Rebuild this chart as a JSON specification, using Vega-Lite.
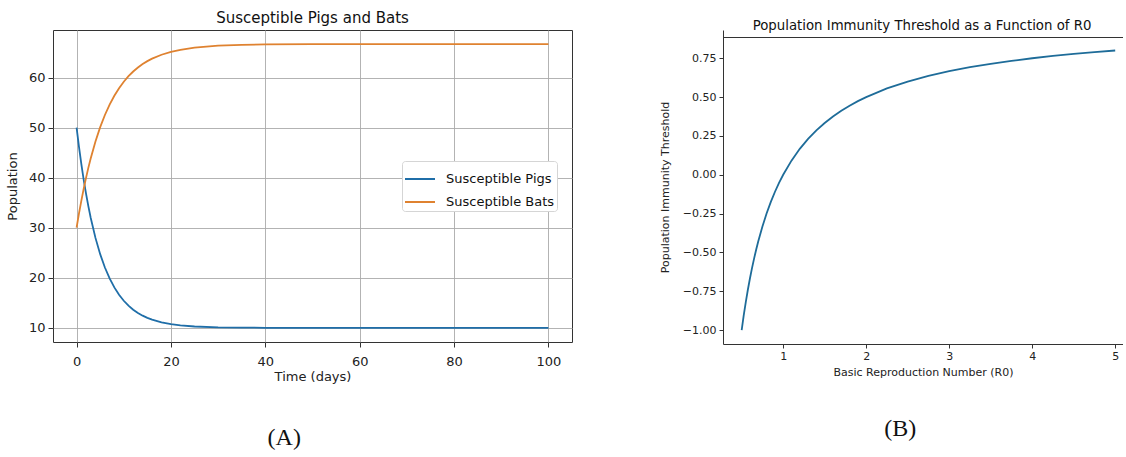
{
  "$schema": "https://vega.github.io/schema/vega-lite/v6.json",
  "padding": {"left": 5, "top": 10, "right": 0, "bottom": 0},
  "background": "white",
  "config": {
    "font": "DejaVu Sans",
    "axis": {"labelColor": "#222", "titleColor": "#222", "domainColor": "#333", "tickColor": "#333", "titleFontWeight": "normal", "labelFont": "DejaVu Sans", "titleFont": "DejaVu Sans"},
    "title": {"font": "DejaVu Sans", "fontWeight": "normal", "color": "#111"},
    "view": {"stroke": "#333"}
  },
  "datasets": {
    "sir": [
      {"series": "Susceptible Pigs", "t": 0, "v": 50},
      {"series": "Susceptible Pigs", "t": 0.5, "v": 46.19},
      {"series": "Susceptible Pigs", "t": 1, "v": 42.75},
      {"series": "Susceptible Pigs", "t": 1.5, "v": 39.63},
      {"series": "Susceptible Pigs", "t": 2, "v": 36.81},
      {"series": "Susceptible Pigs", "t": 2.5, "v": 34.26},
      {"series": "Susceptible Pigs", "t": 3, "v": 31.95},
      {"series": "Susceptible Pigs", "t": 4, "v": 27.97},
      {"series": "Susceptible Pigs", "t": 5, "v": 24.72},
      {"series": "Susceptible Pigs", "t": 6, "v": 22.05},
      {"series": "Susceptible Pigs", "t": 7, "v": 19.86},
      {"series": "Susceptible Pigs", "t": 8, "v": 18.08},
      {"series": "Susceptible Pigs", "t": 9, "v": 16.61},
      {"series": "Susceptible Pigs", "t": 10, "v": 15.41},
      {"series": "Susceptible Pigs", "t": 11, "v": 14.43},
      {"series": "Susceptible Pigs", "t": 12, "v": 13.63},
      {"series": "Susceptible Pigs", "t": 13, "v": 12.97},
      {"series": "Susceptible Pigs", "t": 14, "v": 12.43},
      {"series": "Susceptible Pigs", "t": 15, "v": 11.99},
      {"series": "Susceptible Pigs", "t": 16, "v": 11.63},
      {"series": "Susceptible Pigs", "t": 18, "v": 11.09},
      {"series": "Susceptible Pigs", "t": 20, "v": 10.73},
      {"series": "Susceptible Pigs", "t": 22, "v": 10.49},
      {"series": "Susceptible Pigs", "t": 25, "v": 10.27},
      {"series": "Susceptible Pigs", "t": 30, "v": 10.1},
      {"series": "Susceptible Pigs", "t": 35, "v": 10.04},
      {"series": "Susceptible Pigs", "t": 40, "v": 10.01},
      {"series": "Susceptible Pigs", "t": 50, "v": 10},
      {"series": "Susceptible Pigs", "t": 60, "v": 10},
      {"series": "Susceptible Pigs", "t": 70, "v": 10},
      {"series": "Susceptible Pigs", "t": 80, "v": 10},
      {"series": "Susceptible Pigs", "t": 90, "v": 10},
      {"series": "Susceptible Pigs", "t": 100, "v": 10},
      {"series": "Susceptible Bats", "t": 0, "v": 30},
      {"series": "Susceptible Bats", "t": 0.5, "v": 32.8},
      {"series": "Susceptible Bats", "t": 1, "v": 35.38},
      {"series": "Susceptible Bats", "t": 1.5, "v": 37.77},
      {"series": "Susceptible Bats", "t": 2, "v": 39.97},
      {"series": "Susceptible Bats", "t": 2.5, "v": 42.01},
      {"series": "Susceptible Bats", "t": 3, "v": 43.89},
      {"series": "Susceptible Bats", "t": 4, "v": 47.23},
      {"series": "Susceptible Bats", "t": 5, "v": 50.09},
      {"series": "Susceptible Bats", "t": 6, "v": 52.52},
      {"series": "Susceptible Bats", "t": 7, "v": 54.6},
      {"series": "Susceptible Bats", "t": 8, "v": 56.37},
      {"series": "Susceptible Bats", "t": 9, "v": 57.88},
      {"series": "Susceptible Bats", "t": 10, "v": 59.17},
      {"series": "Susceptible Bats", "t": 11, "v": 60.27},
      {"series": "Susceptible Bats", "t": 12, "v": 61.21},
      {"series": "Susceptible Bats", "t": 13, "v": 62.01},
      {"series": "Susceptible Bats", "t": 14, "v": 62.7},
      {"series": "Susceptible Bats", "t": 15, "v": 63.28},
      {"series": "Susceptible Bats", "t": 16, "v": 63.78},
      {"series": "Susceptible Bats", "t": 18, "v": 64.56},
      {"series": "Susceptible Bats", "t": 20, "v": 65.14},
      {"series": "Susceptible Bats", "t": 22, "v": 65.55},
      {"series": "Susceptible Bats", "t": 25, "v": 65.98},
      {"series": "Susceptible Bats", "t": 30, "v": 66.36},
      {"series": "Susceptible Bats", "t": 35, "v": 66.53},
      {"series": "Susceptible Bats", "t": 40, "v": 66.61},
      {"series": "Susceptible Bats", "t": 50, "v": 66.66},
      {"series": "Susceptible Bats", "t": 60, "v": 66.67},
      {"series": "Susceptible Bats", "t": 70, "v": 66.67},
      {"series": "Susceptible Bats", "t": 80, "v": 66.67},
      {"series": "Susceptible Bats", "t": 90, "v": 66.67},
      {"series": "Susceptible Bats", "t": 100, "v": 66.67}
    ],
    "hit": [
      {"r": 0.5, "p": -1},
      {"r": 0.525, "p": -0.9048},
      {"r": 0.55, "p": -0.8182},
      {"r": 0.575, "p": -0.7391},
      {"r": 0.6, "p": -0.6667},
      {"r": 0.625, "p": -0.6},
      {"r": 0.65, "p": -0.5385},
      {"r": 0.675, "p": -0.4815},
      {"r": 0.7, "p": -0.4286},
      {"r": 0.75, "p": -0.3333},
      {"r": 0.8, "p": -0.25},
      {"r": 0.85, "p": -0.1765},
      {"r": 0.9, "p": -0.1111},
      {"r": 0.95, "p": -0.0526},
      {"r": 1.0, "p": 0},
      {"r": 1.1, "p": 0.0909},
      {"r": 1.2, "p": 0.1667},
      {"r": 1.3, "p": 0.2308},
      {"r": 1.4, "p": 0.2857},
      {"r": 1.5, "p": 0.3333},
      {"r": 1.6, "p": 0.375},
      {"r": 1.7, "p": 0.4118},
      {"r": 1.8, "p": 0.4444},
      {"r": 1.9, "p": 0.4737},
      {"r": 2.0, "p": 0.5},
      {"r": 2.25, "p": 0.5556},
      {"r": 2.5, "p": 0.6},
      {"r": 2.75, "p": 0.6364},
      {"r": 3.0, "p": 0.6667},
      {"r": 3.25, "p": 0.6923},
      {"r": 3.5, "p": 0.7143},
      {"r": 3.75, "p": 0.7333},
      {"r": 4.0, "p": 0.75},
      {"r": 4.25, "p": 0.7647},
      {"r": 4.5, "p": 0.7778},
      {"r": 4.75, "p": 0.7895},
      {"r": 5.0, "p": 0.8}
    ]
  },
  "hconcat": [
    {
      "vconcat": [
        {
          "width": 519,
          "height": 312,
          "title": {"text": "Susceptible Pigs and Bats", "fontSize": 15, "offset": 4},
          "data": {"name": "sir"},
          "mark": {"type": "line", "strokeWidth": 1.8, "clip": true},
          "encoding": {
            "x": {"field": "t", "type": "quantitative",
              "scale": {"domain": [-5, 105], "nice": false, "zero": false},
              "axis": {"values": [0, 20, 40, 60, 80, 100], "title": "Time (days)", "grid": true, "gridColor": "#aaaaaa", "gridWidth": 0.9, "labelFontSize": 13, "titleFontSize": 13, "tickSize": 5, "labelPadding": 8, "titlePadding": 2, "domain": false}},
            "y": {"field": "v", "type": "quantitative",
              "scale": {"domain": [7.17, 69.5], "nice": false, "zero": false},
              "axis": {"values": [10, 20, 30, 40, 50, 60], "title": "Population", "grid": true, "gridColor": "#aaaaaa", "gridWidth": 0.9, "labelFontSize": 13, "titleFontSize": 13, "tickSize": 5, "labelPadding": 3, "titlePadding": 9, "domain": false}},
            "color": {"field": "series", "type": "nominal",
              "scale": {"domain": ["Susceptible Pigs", "Susceptible Bats"], "range": ["#1f6ea8", "#df8230"]},
              "legend": {"title": null, "orient": "none", "legendX": 349, "legendY": 131, "fillColor": "white", "strokeColor": "#d5d5d5", "padding": 2, "cornerRadius": 3, "symbolType": "stroke", "symbolStrokeWidth": 2, "symbolSize": 900, "labelFontSize": 13, "labelFont": "DejaVu Sans", "labelColor": "#111", "labelOffset": 10, "rowPadding": 0}}
          }
        }
      ],
      "title": {"text": "(A)", "orient": "bottom", "anchor": "middle", "frame": "bounds", "font": "Liberation Serif", "fontSize": 24, "offset": 42, "dx": -5, "color": "#111"}
    },
    {
      "vconcat": [
        {
          "width": 400,
          "height": 314,
          "title": {"text": "Population Immunity Threshold as a Function of R0", "fontSize": 13.3, "offset": -2, "dx": -1},
          "data": {"name": "hit"},
          "view": {"stroke": null},
          "layer": [
            {
              "mark": {"type": "line", "strokeWidth": 1.8, "color": "#1e6c99", "clip": true},
              "encoding": {
                "x": {"field": "r", "type": "quantitative",
                  "scale": {"domain": [0.275, 5.094], "nice": false, "zero": false},
                  "axis": {"values": [1, 2, 3, 4, 5], "format": "d", "title": "Basic Reproduction Number (R0)", "grid": false, "labelFontSize": 11, "titleFontSize": 11, "tickSize": 4, "labelPadding": 2, "titlePadding": 5, "domain": true}},
                "y": {"field": "p", "type": "quantitative",
                  "scale": {"domain": [-1.09, 0.932], "nice": false, "zero": false},
                  "axis": {"values": [-1, -0.75, -0.5, -0.25, 0, 0.25, 0.5, 0.75], "format": ".2f", "title": "Population Immunity Threshold", "grid": false, "labelFontSize": 11, "titleFontSize": 11, "tickSize": 4, "labelPadding": 3, "titlePadding": 12, "domain": true}}
              }
            },
            {
              "mark": {"type": "rule", "opacity": 0},
              "encoding": {
                "x": {"field": "r", "type": "quantitative",
                  "axis": {"orient": "top", "offset": -7, "labels": false, "ticks": false, "title": null, "grid": false, "domain": true, "domainColor": "#333"}}
              }
            }
          ],
          "resolve": {"axis": {"x": "independent"}}
        }
      ],
      "title": {"text": "(B)", "orient": "bottom", "anchor": "middle", "frame": "bounds", "font": "Liberation Serif", "fontSize": 24, "offset": 40, "dx": 9, "color": "#111"}
    }
  ],
  "spacing": 86
}
